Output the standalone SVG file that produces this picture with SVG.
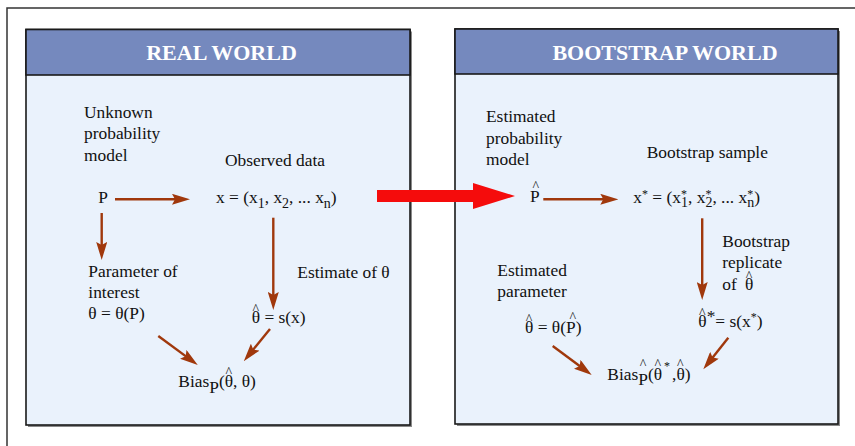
<svg xmlns="http://www.w3.org/2000/svg" width="855" height="446" viewBox="0 0 855 446">
<style>
text{font-family:"Liberation Serif","Times New Roman",serif;font-size:17.4px;fill:#111;}
.title{font-weight:bold;font-size:22px;fill:#fff;text-anchor:middle;}
.hat{font-size:14px;}
.sub{font-size:14px;}
.sup{font-size:12px;}
.panel{fill:#eaf2fc;stroke:#1a1a1a;stroke-width:1.6;}
.shadow{fill:#8a8a8a;}
.head{fill:#7589be;stroke:#1a1a1a;stroke-width:1.6;}
.conn line{stroke:#a0380c;stroke-width:2.4;marker-end:url(#ah);}
</style>
<defs>
<marker id="ah" markerUnits="userSpaceOnUse" markerWidth="18" markerHeight="11" refX="8" refY="5.5" orient="auto">
<path d="M0,0 L18,5.5 L0,11 L3,5.5 Z" fill="#a0380c"/>
</marker>
</defs>
<rect x="0" y="0" width="855" height="446" fill="#fff"/>
<rect x="7" y="8" width="870" height="470" fill="none" stroke="#333" stroke-width="1.5"/>

<g id="real-world-panel">
<rect class="shadow" x="28" y="31.5" width="384" height="395.5"/>
<rect class="panel" x="26" y="29.5" width="384" height="395.5"/>
<rect class="head" x="26" y="29.5" width="384" height="45.5"/>
<text class="title" x="221.5" y="60">REAL WORLD</text>
</g>
<g id="bootstrap-world-panel">
<rect class="shadow" x="457" y="31" width="383" height="395"/>
<rect class="panel" x="455" y="29" width="383" height="395"/>
<rect class="head" x="455" y="29" width="383" height="45"/>
<text class="title" x="665" y="60">BOOTSTRAP WORLD</text>
</g>

<g id="transfer-arrow">
<polygon points="377,190 473,190 473,183 515,196 473,209 473,202 377,202" fill="#f50c0c"/>
</g>

<g id="unknown-model">
<text x="84" y="117.7">Unknown</text>
<text x="84" y="139">probability</text>
<text x="84" y="160.5">model</text>
</g>
<g id="observed-data-label"><text x="225" y="166">Observed data</text></g>
<g id="P"><text x="98.3" y="203.3">P</text></g>
<g id="x-data"><text x="216" y="203.3">x = (x<tspan class="sub" dy="4.5">1</tspan><tspan dy="-4.5">, x</tspan><tspan class="sub" dy="4.5">2</tspan><tspan dy="-4.5">, ... x</tspan><tspan class="sub" dy="4.5">n</tspan><tspan dy="-4.5">)</tspan></text></g>
<g id="parameter-of-interest">
<text x="88.3" y="276.7">Parameter of</text>
<text x="88.3" y="297.7">interest</text>
<text x="88.3" y="319">θ = θ(P)</text>
</g>
<g id="estimate-label"><text x="297.3" y="277.7">Estimate of θ</text></g>
<g id="theta-hat">
<text x="251.7" y="323.3">θ<tspan class="hat" dx="-7.63" dy="-9.3">^</tspan><tspan dx="1.07" dy="9.3"> = s(x)</tspan></text>
</g>
<g id="bias-real">
<text x="178.3" y="386.7">Bias<tspan dy="6">P</tspan><tspan dy="-6">(θ</tspan><tspan class="hat" dx="-7.63" dy="-9.3">^</tspan><tspan dx="1.07" dy="9.3">, θ)</tspan></text>
</g>

<g id="estimated-model">
<text x="486" y="122.3">Estimated</text>
<text x="486" y="143.5">probability</text>
<text x="486" y="165">model</text>
</g>
<g id="bootstrap-sample-label"><text x="646.7" y="157.7">Bootstrap sample</text></g>
<g id="P-hat">
<text x="530" y="202.3">P<tspan class="hat" dx="-7.1" dy="-11">^</tspan></text>
</g>
<g id="x-star"><text x="633.3" y="203">x<tspan class="sup" dy="-5">*</tspan><tspan dy="5"> = (x</tspan><tspan class="sup" dy="-5">*</tspan><tspan class="sub" dx="-6" dy="9">1</tspan><tspan dy="-4">, x</tspan><tspan class="sup" dy="-5">*</tspan><tspan class="sub" dx="-6" dy="9">2</tspan><tspan dy="-4">, ... x</tspan><tspan class="sup" dy="-5">*</tspan><tspan class="sub" dx="-6" dy="9">n</tspan><tspan dy="-4">)</tspan></text></g>
<g id="bootstrap-replicate">
<text x="722.3" y="246.7">Bootstrap</text>
<text x="722.3" y="267.7">replicate</text>
<text x="722.3" y="290">of<tspan x="745">θ</tspan><tspan class="hat" dx="-7.63" dy="-9.3">^</tspan></text>
</g>
<g id="estimated-parameter">
<text x="497.3" y="276">Estimated</text>
<text x="497.3" y="297">parameter</text>
<text x="525" y="333.3">θ<tspan class="hat" dx="-7.63" dy="-9.3">^</tspan><tspan dx="1.07" dy="9.3"> = θ(P</tspan><tspan class="hat" dx="-6.1" dy="-11">^</tspan><tspan dx="-0.47" dy="11">)</tspan></text>
</g>
<g id="theta-hat-star">
<text x="698.3" y="327.3">θ<tspan class="hat" dx="-7.63" dy="-9.3">^</tspan><tspan dx="1.07" dy="3.8">*</tspan><tspan dy="5.5">= s(x</tspan><tspan class="sup" dy="-6">*</tspan><tspan dy="6">)</tspan></text>
</g>
<g id="bias-bootstrap">
<text x="607.3" y="380">Bias<tspan dy="5">P</tspan><tspan class="hat" dx="-8.12" dy="-15.8">^</tspan><tspan dx="1.56" dy="10.8">(θ</tspan><tspan class="hat" dx="-7.63" dy="-10.8">^</tspan><tspan class="sup" dx="3.07" dy="0.6">*</tspan><tspan dx="2" dy="10.2">,θ</tspan><tspan class="hat" dx="-7.63" dy="-10.8">^</tspan><tspan dx="1.07" dy="10.8">)</tspan></text>
</g>

<g id="connectors" class="conn">
<line x1="115" y1="199.3" x2="180" y2="199.3"/>
<line x1="101.7" y1="213" x2="101.7" y2="250"/>
<line x1="273.3" y1="217.7" x2="273.3" y2="300"/>
<line x1="158.3" y1="336" x2="189.7" y2="359.1"/>
<line x1="270" y1="329" x2="250.1" y2="353.4"/>
<line x1="543.3" y1="199.3" x2="608.3" y2="199.3"/>
<line x1="702.2" y1="218.3" x2="702.2" y2="290"/>
<line x1="552.7" y1="346" x2="583.7" y2="369"/>
<line x1="728.3" y1="337.7" x2="709.5" y2="361.5"/>
</g>
</svg>
